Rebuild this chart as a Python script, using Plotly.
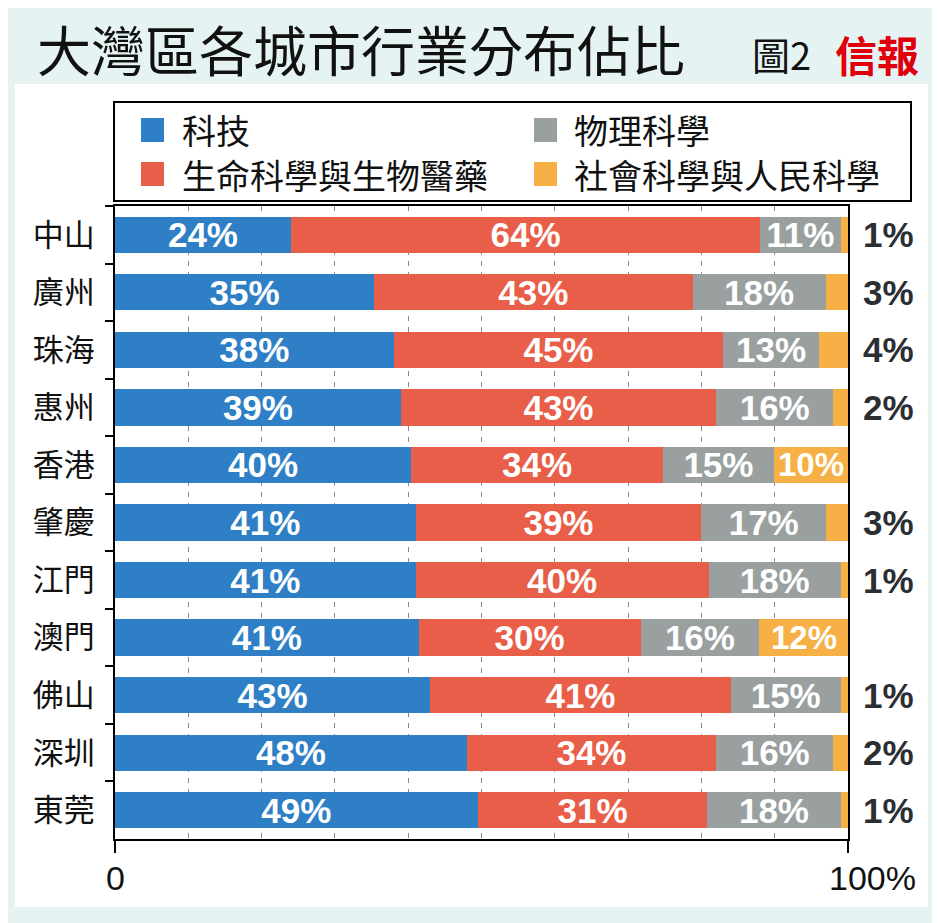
import plotly.graph_objects as go

# ---- data ----
cities = ["中山", "廣州", "珠海", "惠州", "香港", "肇慶", "江門", "澳門", "佛山", "深圳", "東莞"]
series_names = ["科技", "生命科學與生物醫藥", "物理科學", "社會科學與人民科學"]
tech = [24, 35, 38, 39, 40, 41, 41, 41, 43, 48, 49]
life = [64, 43, 45, 43, 34, 39, 40, 30, 41, 34, 31]
phys = [11, 18, 13, 16, 15, 17, 18, 16, 15, 16, 18]
social = [1, 3, 4, 2, 10, 3, 1, 12, 1, 2, 1]
x_tick_labels = ["0", "100%"]

colors = ["#2e7fc6", "#e85e48", "#9a9fa0", "#f6b045"]

W, H = 940, 923
OFF = 8  # page body margin offset (screen = figure + OFF)
SL, SR, ST, SB = 115, 848, 206, 839  # plot area in screen pixels
L, R, T, B = SL - OFF, SR - OFF, ST - OFF, SB - OFF


def px(xs):
    return (xs - OFF - L) / (R - L)


def py(ys):
    return (B - (ys - OFF)) / (B - T)


NUM_FONT = "Liberation Sans Narrow, Arial Narrow, Liberation Sans, sans-serif"
CJK_FONT = "Noto Sans CJK TC, Noto Sans CJK SC, sans-serif"
SMALL = 10  # values below this are labelled outside the bar

fig = go.Figure()
all_vals = [tech, life, phys, social]
for i, (name, vals) in enumerate(zip(series_names, all_vals)):
    text = [f"{v}%" for v in vals] if i < 3 else None
    fig.add_trace(go.Bar(
        y=cities, x=vals, name=name, orientation="h",
        marker=dict(color=colors[i], line=dict(width=0)),
        text=text, textposition="inside" if i < 3 else "none", textangle=0,
        insidetextanchor="middle", constraintext="none",
        insidetextfont=dict(family=NUM_FONT, size=35, color="white", weight="bold"),
        cliponaxis=False, hoverinfo="skip", showlegend=False,
    ))

shapes = [
    # white panel
    dict(type="rect", xref="paper", yref="paper", x0=px(15), x1=px(928), y0=py(907), y1=py(84),
         fillcolor="white", line=dict(width=0), layer="below"),
    # legend box
    dict(type="rect", xref="paper", yref="paper", x0=px(114), x1=px(911), y0=py(201), y1=py(102),
         fillcolor="white", line=dict(color="black", width=2), layer="above"),
]
annotations = []
leg_cols = [(141, 180), (534, 572)]
leg_rows = [(118, 130), (162, 174)]
# (series index, column, row)
leg_layout = [(0, 0, 0), (1, 0, 1), (2, 1, 0), (3, 1, 1)]
for si, ci, ri in leg_layout:
    sx, tx = leg_cols[ci]
    sy, ty = leg_rows[ri]
    shapes.append(dict(type="rect", xref="paper", yref="paper",
                       x0=px(sx), x1=px(sx + 23), y0=py(sy + 24), y1=py(sy),
                       fillcolor=colors[si], line=dict(width=0), layer="above"))
    annotations.append(dict(xref="paper", yref="paper", x=px(tx), y=py(ty),
                            xanchor="left", yanchor="middle", showarrow=False,
                            text=series_names[si],
                            font=dict(family=CJK_FONT, size=34, color="#111")))

# labels of the last series: inside (white) when large, right of the bar end when small
for j, (city, v) in enumerate(zip(cities, social)):
    total = tech[j] + life[j] + phys[j] + social[j]
    if v < SMALL:
        annotations.append(dict(xref="x", yref="y", x=100, y=city, xanchor="left",
                                yanchor="middle", xshift=13, showarrow=False, text=f"{v}%",
                                font=dict(family=NUM_FONT, size=35, color="#2b2f33",
                                          weight="bold")))
    else:
        mid = (total - v / 2) / total * 100
        annotations.append(dict(xref="x", yref="y", x=mid, y=city, xanchor="center",
                                yanchor="middle", showarrow=False, text=f"{v}%",
                                font=dict(family=NUM_FONT, size=33, color="white",
                                          weight="bold")))

# title
annotations += [
    dict(xref="paper", yref="paper", x=px(35), y=py(48), xanchor="left", yanchor="middle",
         showarrow=False, text="大灣區各城市行業分布佔比",
         font=dict(family=CJK_FONT, size=54, color="#111")),
    dict(xref="paper", yref="paper", x=px(750), y=py(54), xanchor="left", yanchor="middle",
         showarrow=False, text="圖2", font=dict(family=CJK_FONT, size=38, color="#111")),
    dict(xref="paper", yref="paper", x=px(833), y=py(53), xanchor="left", yanchor="middle",
         showarrow=False, text="信報",
         font=dict(family=CJK_FONT, size=42, color="#e0000b", weight="bold")),
    # x axis end labels
    dict(xref="x", yref="paper", x=0, y=py(878), xanchor="center", yanchor="middle",
         showarrow=False, text=x_tick_labels[0], font=dict(family=NUM_FONT, size=34, color="#111")),
    dict(xref="x", yref="paper", x=100, y=py(878), xanchor="left", yanchor="middle", xshift=-21,
         showarrow=False, text=x_tick_labels[1], font=dict(family=NUM_FONT, size=34, color="#111")),
]

fig.update_layout(
    width=W, height=H,
    margin=dict(l=L, r=W - R, t=T, b=H - B, pad=0),
    paper_bgcolor="#e6f3f3", plot_bgcolor="white",
    barmode="stack", barnorm="percent", bargap=0.37,
    showlegend=False,
    shapes=shapes, annotations=annotations,
    xaxis=dict(range=[0, 100], tickvals=[0, 100], ticktext=["", ""], showticklabels=False,
               ticks="outside", ticklen=12, tickwidth=2, tickcolor="black",
               showgrid=False, zeroline=False,
               showline=True, linecolor="black", linewidth=2, mirror=True,
               minor=dict(tickvals=[10, 20, 30, 40, 50, 60, 70, 80, 90], showgrid=True,
                          gridcolor="#8a8a8a", gridwidth=1, griddash="5px,6px", ticks="")),
    yaxis=dict(autorange="reversed", tickson="boundaries", ticks="outside", ticklen=8,
               tickwidth=2, tickcolor="black", showgrid=False,
               showline=True, linecolor="black", linewidth=2, mirror=True,
               tickfont=dict(family=CJK_FONT, size=31, color="#111"), ticklabelstandoff=12),
)

fig.write_html("out.html")
